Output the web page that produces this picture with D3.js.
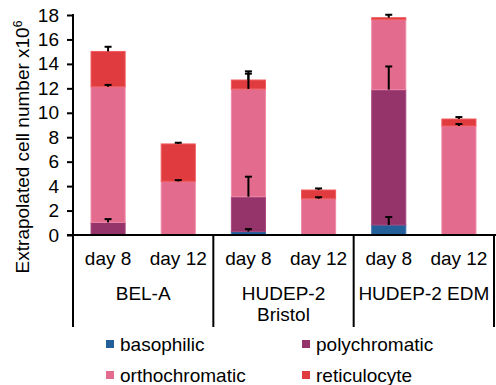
<!DOCTYPE html>
<html>
<head>
<meta charset="utf-8">
<script src="https://cdn.jsdelivr.net/npm/d3@7"></script>
<style>
  html, body { margin: 0; padding: 0; background: #fff; }
  svg text { font-family: "Liberation Sans", Arial, sans-serif; fill: #000; }
</style>
</head>
<body>
<div id="chart"></div>
<script>
// barras empilhadas por estágio, com barras de erro e eixo x em dois níveis
const CATEGORIES = ["day 8", "day 12", "day 8", "day 12", "day 8", "day 12"];
const GROUPS = [["BEL-A"], ["HUDEP-2", "Bristol"], ["HUDEP-2 EDM"]];

const SERIES = ["basophilic", "polychromatic", "orthochromatic", "reticulocyte"];
const basophilic = [0, 0, 0.28, 0, 0.82, 0];
const polychromatic = [1.03, 0, 2.85, 0, 11.07, 0];
const orthochromatic = [11.1, 4.39, 8.82, 2.97, 5.73, 8.92];
const reticulocyte = [2.89, 3.06, 0.73, 0.71, 0.16, 0.57];

// erro (só para cima), por série
const basophilicErr = [0, 0, 0.2, 0, 0.65, 0];
const polychromaticErr = [0.27, 0, 1.64, 0, 1.9, 0];
const orthochromaticErr = [0.15, 0.1, 1.25, 0.12, 0, 0.16];
const reticulocyteErr = [0.38, 0.1, 0.71, 0.13, 0.24, 0.16];

const Y_TICKS = [0, 2, 4, 6, 8, 10, 12, 14, 16, 18];

const COLORS = {
  basophilic: "#235f99",
  polychromatic: "#95336b",
  orthochromatic: "#e36c8e",
  reticulocyte: "#e03b3e",
};
const STROKES = {
  basophilic: "#3a74ad",
  polychromatic: "#a8487f",
  orthochromatic: "#f08aa8",
  reticulocyte: "#ef5a5d",
};

const W = 496, H = 385;
const AX = { left: 73, right: 494, top: 15, bottom: 235, groupBottom: 327 };
const FS = 19;

const values = { basophilic, polychromatic, orthochromatic, reticulocyte };
const errors = {
  basophilic: basophilicErr,
  polychromatic: polychromaticErr,
  orthochromatic: orthochromaticErr,
  reticulocyte: reticulocyteErr,
};

const rows = CATEGORIES.map((c, i) => {
  const r = { idx: i, cat: c };
  SERIES.forEach((s) => (r[s] = values[s][i]));
  return r;
});

const stacked = d3.stack().keys(SERIES)(rows);

const x = d3
  .scaleBand()
  .domain(rows.map((d) => d.idx))
  .range([AX.left, AX.right])
  .paddingInner(0.5)
  .paddingOuter(0.25);

const y = d3.scaleLinear().domain([0, 18]).range([AX.bottom, AX.top]);

const svg = d3.select("#chart").append("svg").attr("width", W).attr("height", H);

// barras
svg
  .append("g")
  .selectAll("g")
  .data(stacked)
  .join("g")
  .attr("fill", (d) => COLORS[d.key])
  .attr("stroke", (d) => STROKES[d.key])
  .attr("stroke-width", 1)
  .selectAll("rect")
  .data((d) => d.filter((p) => p[1] - p[0] > 0))
  .join("rect")
  .attr("x", (p) => x(p.data.idx) + 0.5)
  .attr("width", x.bandwidth() - 1)
  .attr("y", (p) => y(p[1]))
  .attr("height", (p) => y(p[0]) - y(p[1]));

// barras de erro por cima de tudo
const errData = [];
stacked.forEach((layer) => {
  layer.forEach((p, i) => {
    const e = errors[layer.key][i];
    if (e > 0) {
      errData.push({ cx: x(i) + x.bandwidth() / 2, top: p[1], err: e });
    }
  });
});
const gErr = svg.append("g").attr("stroke", "#000").attr("stroke-width", 2);
gErr
  .selectAll("line.stem")
  .data(errData)
  .join("line")
  .attr("class", "stem")
  .attr("x1", (d) => d.cx)
  .attr("x2", (d) => d.cx)
  .attr("y1", (d) => y(d.top))
  .attr("y2", (d) => y(d.top + d.err));
gErr
  .selectAll("line.cap")
  .data(errData)
  .join("line")
  .attr("class", "cap")
  .attr("x1", (d) => d.cx - 3.5)
  .attr("x2", (d) => d.cx + 3.5)
  .attr("y1", (d) => y(d.top + d.err))
  .attr("y2", (d) => y(d.top + d.err));

// eixo y
const yAxis = svg
  .append("g")
  .attr("transform", `translate(${AX.left},0)`)
  .call(d3.axisLeft(y).tickValues(Y_TICKS).tickSize(6).tickPadding(8));
yAxis.select(".domain").remove();
yAxis.selectAll("line").attr("stroke", "#000").attr("stroke-width", 2);
yAxis.selectAll("text").attr("font-size", FS).attr("font-family", "Liberation Sans, Arial, sans-serif");
svg
  .append("line")
  .attr("x1", AX.left)
  .attr("x2", AX.left)
  .attr("y1", AX.top - 1)
  .attr("y2", AX.bottom)
  .attr("stroke", "#000")
  .attr("stroke-width", 2);

// eixo x: linha + categorias + grupos
svg
  .append("line")
  .attr("x1", AX.left - 6)
  .attr("x2", W)
  .attr("y1", AX.bottom)
  .attr("y2", AX.bottom)
  .attr("stroke", "#000")
  .attr("stroke-width", 2);

svg
  .append("g")
  .selectAll("text")
  .data(rows)
  .join("text")
  .attr("x", (d) => x(d.idx) + x.bandwidth() / 2)
  .attr("y", 265)
  .attr("text-anchor", "middle")
  .attr("font-size", FS)
  .text((d) => d.cat);

const step = x.step();
const groupX = (g) => AX.left + g * step * 2;
svg
  .append("g")
  .selectAll("line")
  .data(d3.range(GROUPS.length + 1))
  .join("line")
  .attr("x1", (g) => groupX(g))
  .attr("x2", (g) => groupX(g))
  .attr("y1", AX.bottom)
  .attr("y2", AX.groupBottom)
  .attr("stroke", "#000")
  .attr("stroke-width", 2);

const gGroups = svg.append("g");
GROUPS.forEach((lines, g) => {
  const t = gGroups
    .append("text")
    .attr("x", groupX(g) + step)
    .attr("y", 300)
    .attr("text-anchor", "middle")
    .attr("font-size", FS);
  lines.forEach((ln, k) => {
    t.append("tspan")
      .attr("x", groupX(g) + step)
      .attr("dy", k === 0 ? 0 : 21)
      .text(ln);
  });
});

// título do eixo y
const title = svg
  .append("text")
  .attr("transform", "translate(29,147) rotate(-90)")
  .attr("text-anchor", "middle")
  .attr("font-size", FS);
title.append("tspan").text("Extrapolated cell number x10");
title.append("tspan").attr("dy", -7).attr("font-size", 12).text("6");

// legenda 2x2
const LEGEND_POS = [
  [106, 344],
  [302, 344],
  [106, 375],
  [302, 375],
];
const legend = svg
  .append("g")
  .selectAll("g")
  .data(SERIES)
  .join("g")
  .attr("transform", (d, i) => `translate(${LEGEND_POS[i][0]},${LEGEND_POS[i][1]})`);
legend
  .append("rect")
  .attr("x", 0)
  .attr("y", -4)
  .attr("width", 8)
  .attr("height", 8)
  .attr("fill", (d) => COLORS[d]);
legend
  .append("text")
  .attr("x", 14)
  .attr("y", 6.5)
  .attr("font-size", FS)
  .text((d) => d);
</script>
</body>
</html>
